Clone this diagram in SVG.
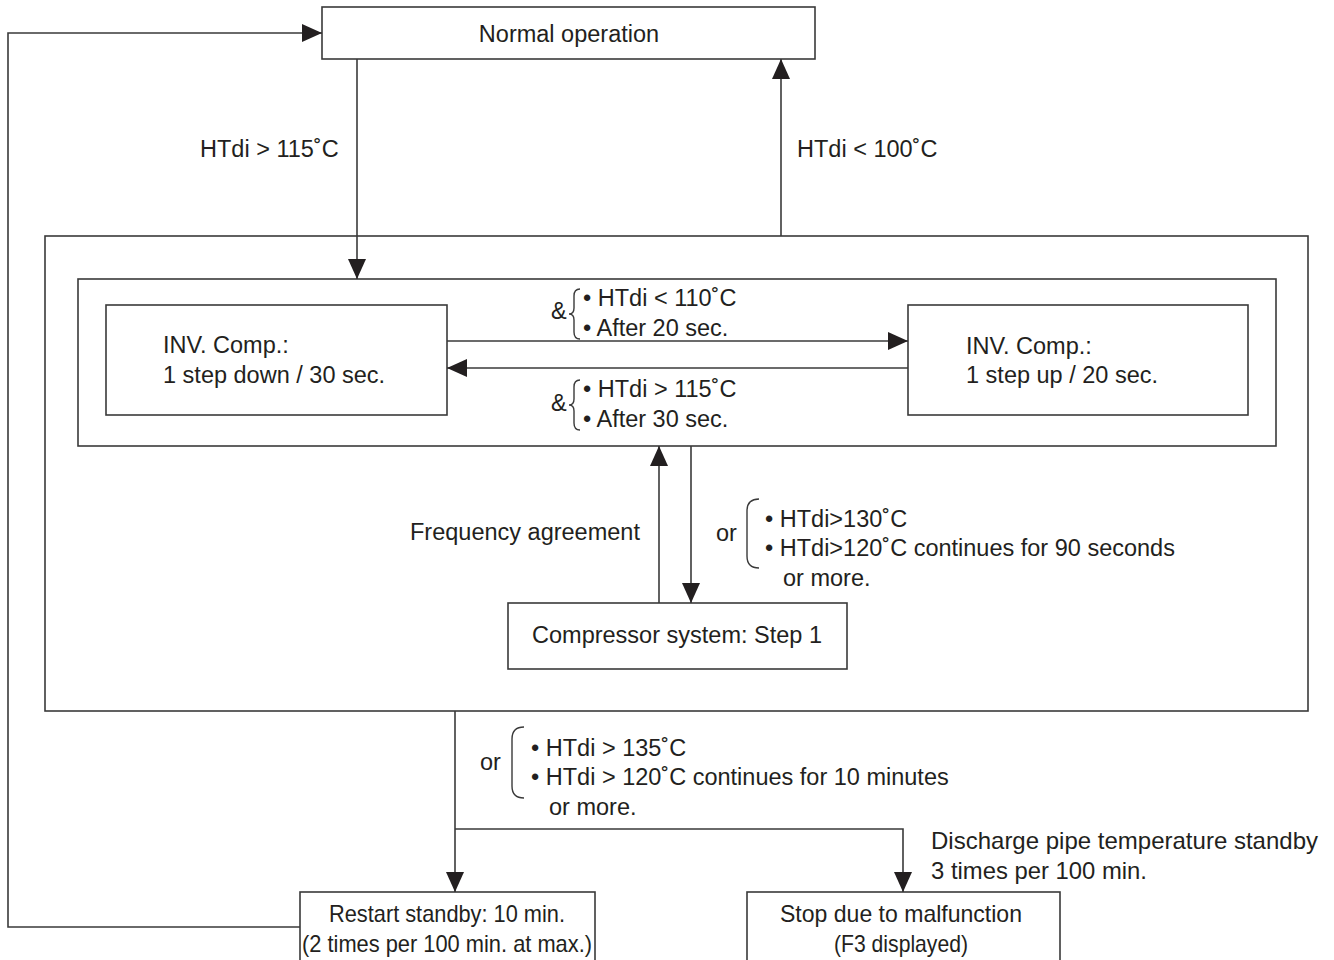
<svg xmlns="http://www.w3.org/2000/svg" width="1334" height="960" viewBox="0 0 1334 960">
<style>
.box{fill:#fff;stroke:#3a3a3a;stroke-width:1.6}
.ln{fill:none;stroke:#3a3a3a;stroke-width:1.6}
.br{fill:none;stroke:#3a3a3a;stroke-width:1.4}
text{font-family:"Liberation Sans",Arial,sans-serif;font-size:23.5px;fill:#231f20}
.c{text-anchor:middle}
.n{font-size:24px}
</style>
<defs>
<marker id="ah" markerUnits="userSpaceOnUse" markerWidth="20" markerHeight="18" refX="20" refY="9" orient="auto">
<path d="M0,0 L20,9 L0,18 z" fill="#231f20"/>
</marker>
</defs>
<rect width="1334" height="960" fill="#fff"/>
<g id="outer-box"><rect class="box" x="45" y="236" width="1263" height="475"/></g>
<g id="inner-box"><rect class="box" x="78" y="279" width="1198" height="167"/></g>
<g id="normal-operation"><rect class="box" x="322" y="7" width="493" height="52"/><text class="c" x="569" y="42">Normal operation</text></g>
<g id="inv-down"><rect class="box" x="106" y="305" width="341" height="110"/><text x="163" y="353">INV. Comp.:</text><text x="163" y="383">1 step down / 30 sec.</text></g>
<g id="inv-up"><rect class="box" x="908" y="305" width="340" height="110"/><text x="966" y="354">INV. Comp.:</text><text x="966" y="383">1 step up / 20 sec.</text></g>
<g id="compressor-step1"><rect class="box" x="508" y="603" width="339" height="66"/><text class="c" x="677" y="643">Compressor system: Step 1</text></g>
<g id="restart-standby"><rect class="box" x="300" y="892" width="295" height="80"/><text class="c n" x="447" y="922" textLength="236" lengthAdjust="spacingAndGlyphs">Restart standby: 10 min.</text><text class="c n" x="447" y="952" textLength="290" lengthAdjust="spacingAndGlyphs">(2 times per 100 min. at max.)</text></g>
<g id="stop-malfunction"><rect class="box" x="747" y="892" width="313" height="80"/><text class="c n" x="901" y="922" textLength="242" lengthAdjust="spacingAndGlyphs">Stop due to malfunction</text><text class="c n" x="901" y="952" textLength="134" lengthAdjust="spacingAndGlyphs">(F3 displayed)</text></g>
<g id="connectors">
<line class="ln" x1="357" y1="59" x2="357" y2="279" marker-end="url(#ah)"/>
<line class="ln" x1="781" y1="236" x2="781" y2="59" marker-end="url(#ah)"/>
<line class="ln" x1="447" y1="341" x2="908" y2="341" marker-end="url(#ah)"/>
<line class="ln" x1="908" y1="368" x2="447" y2="368" marker-end="url(#ah)"/>
<line class="ln" x1="659" y1="603" x2="659" y2="446" marker-end="url(#ah)"/>
<line class="ln" x1="691" y1="446" x2="691" y2="603" marker-end="url(#ah)"/>
<line class="ln" x1="455" y1="711" x2="455" y2="892" marker-end="url(#ah)"/>
<polyline class="ln" points="455,829 903,829 903,892" marker-end="url(#ah)"/>
<polyline class="ln" points="300,927 8,927 8,33 322,33" marker-end="url(#ah)"/>
</g>
<g id="labels">
<text x="200" y="157">HTdi &gt; 115˚C</text>
<text x="797" y="157">HTdi &lt; 100˚C</text>
<text x="551" y="319">&amp;</text>
<path class="br" d="M580,289 Q574,289 574,296 L574,308 Q574,314 569,314 Q574,314 574,320 L574,332 Q574,339 580,339"/>
<text x="583" y="306">• HTdi &lt; 110˚C</text>
<text x="583" y="336">• After 20 sec.</text>
<text x="551" y="411">&amp;</text>
<path class="br" d="M580,380 Q574,380 574,387 L574,399 Q574,405 569,405 Q574,405 574,411 L574,423 Q574,430 580,430"/>
<text x="583" y="397">• HTdi &gt; 115˚C</text>
<text x="583" y="427">• After 30 sec.</text>
<text x="410" y="540">Frequency agreement</text>
<text x="716" y="541">or</text>
<path class="br" d="M759,499 Q747,499 747,511 L747,556 Q747,568 759,568"/>
<text x="765" y="527">• HTdi&gt;130˚C</text>
<text x="765" y="556">• HTdi&gt;120˚C continues for 90 seconds</text>
<text x="783" y="586">or more.</text>
<text x="480" y="770">or</text>
<path class="br" d="M524,727 Q512,727 512,739 L512,786 Q512,798 524,798"/>
<text x="531" y="756">• HTdi &gt; 135˚C</text>
<text x="531" y="785">• HTdi &gt; 120˚C continues for 10 minutes</text>
<text x="549" y="815">or more.</text>
<text class="n" x="931" y="849" textLength="387" lengthAdjust="spacingAndGlyphs">Discharge pipe temperature standby</text>
<text class="n" x="931" y="879" textLength="216" lengthAdjust="spacingAndGlyphs">3 times per 100 min.</text>
</g>
</svg>
